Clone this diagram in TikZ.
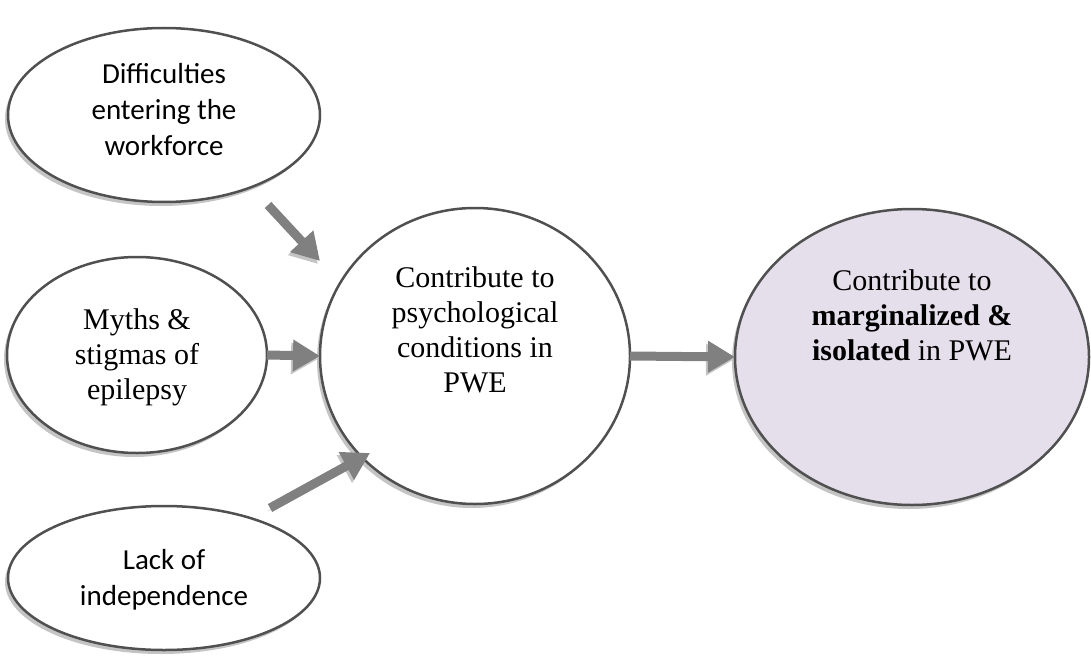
\documentclass[tikz,border=0pt]{standalone}
\usepackage{fontspec}
\setmainfont{Liberation Serif}
\newfontfamily\calib{Carlito}
\usetikzlibrary{shadows,arrows.meta,calc,shapes.geometric}
\definecolor{edgec}{HTML}{505050}
\definecolor{arrc}{HTML}{808080}
\definecolor{shadec}{HTML}{C4C4C4}
\definecolor{lav}{HTML}{E5DFEC}
\tikzset{
 bubble/.style={ellipse, draw=edgec, line width=2.5pt, fill=white, inner sep=0pt, outer sep=0pt,
   drop shadow={shadow xshift=-3pt, shadow yshift=-4pt, fill=shadec, opacity=1}},
 sanstxt/.style={align=center, font=\calib\fontsize{29}{36}\selectfont},
 seriftxt/.style={align=center, font=\fontsize{30}{35}\selectfont},
 bigarrow/.style={draw=arrc, line width=9pt, -{Triangle[width=30pt,length=27pt]},
   preaction={draw=shadec, transform canvas={shift={(-2pt,-3pt)}}}}
}
\begin{document}
\begin{tikzpicture}[x=1pt,y=-1pt]
\useasboundingbox (0,0) rectangle (1091,658);
% ellipses
\node[bubble, minimum width=312pt, minimum height=174pt] (e1) at (164,115) {};
\node[bubble, minimum width=260pt, minimum height=196pt] (m) at (137,355) {};
\node[bubble, minimum width=312pt, minimum height=144pt] (l) at (164,578) {};
\node[bubble, minimum width=310pt, minimum height=296pt] (c) at (475,356) {};
\node[bubble, fill=lav, minimum width=354pt, minimum height=296pt] (r) at (912,357) {};
% texts
\node[sanstxt] (t1) at (164,110) {Difficulties\\entering the\\workforce};
\node[seriftxt] (t2) at (137,357) {Myths \&\\stigmas of\\epilepsy};
\node[sanstxt] (t3) at (164,580) {Lack of\\independence};
\node[seriftxt] (t4) at (475,330) {Contribute to\\psychological\\conditions in\\PWE};
\node[seriftxt] (t5) at (912,315) {Contribute to\\\textbf{marginalized \&}\\\textbf{isolated} in PWE};
% arrows
\coordinate (a1s) at (268,205);
\coordinate (a1e) at (320,261);
\coordinate (a3s) at (270,508);
\coordinate (a3e) at (370,453);
\draw[bigarrow] (a1s) -- (a1e);
\draw[bigarrow] (m.east) -- (c.west);
\draw[bigarrow] (a3s) -- (a3e);
\draw[bigarrow] (c.east) -- (r.west);
\end{tikzpicture}
\end{document}
